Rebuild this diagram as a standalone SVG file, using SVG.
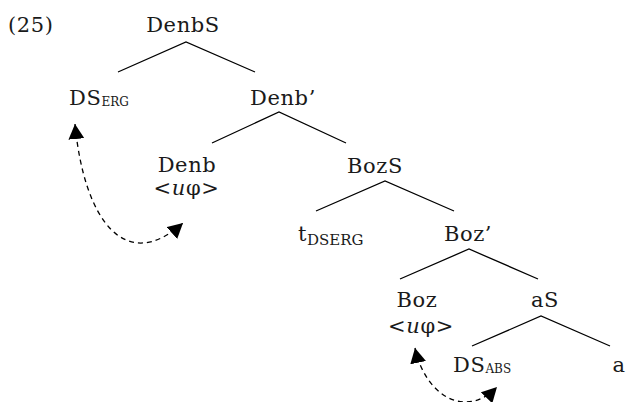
<svg xmlns="http://www.w3.org/2000/svg" width="627" height="402" viewBox="0 0 627 402">
<style>
text{font-family:"DejaVu Serif","Liberation Serif",serif;font-size:21px;fill:#1a1a1a;letter-spacing:0.6px}
.m{text-anchor:middle}
.sub{font-size:12px;letter-spacing:0}
.sub2{font-size:15px;letter-spacing:0}
.e{stroke:#000;stroke-width:1.3;fill:none}
.d{stroke:#000;stroke-width:1.3;fill:none;stroke-dasharray:5 4}
</style>
<defs>
<marker id="ah" markerUnits="userSpaceOnUse" markerWidth="16" markerHeight="16" viewBox="0 0 16 16" refX="15" refY="8" orient="auto-start-reverse">
<path d="M0,0 L15,8 L0,16 Z" fill="#000"/>
</marker>
</defs>
<text x="8" y="32">(25)</text>
<g id="DenbS"><text class="m" x="183" y="32">DenbS</text></g>
<g id="DSERG"><text x="69" y="105">DS<tspan class="sub" dy="1">ERG</tspan></text></g>
<g id="Denb1"><text class="m" x="283" y="105">Denb’</text></g>
<g id="Denb"><text class="m" x="187" y="172">Denb</text><text class="m" x="186.5" y="195">&lt;<tspan font-style="italic">u</tspan>φ&gt;</text></g>
<g id="BozS"><text class="m" x="375" y="173">BozS</text></g>
<g id="tDSERG"><text x="298" y="241">t<tspan class="sub2" dy="4">DSERG</tspan></text></g>
<g id="Boz1"><text class="m" x="468" y="241">Boz’</text></g>
<g id="Boz"><text class="m" x="417" y="307">Boz</text><text class="m" x="421" y="333">&lt;<tspan font-style="italic">u</tspan>φ&gt;</text></g>
<g id="aS"><text class="m" x="545" y="307">aS</text></g>
<g id="DSABS"><text x="453" y="372">DS<tspan class="sub" dy="1">ABS</tspan></text></g>
<g id="a"><text class="m" x="619" y="372">a</text></g>
<g id="connectors">
<path class="e" d="M118,72 L186,42 L255,72"/>
<path class="e" d="M212,143 L279,112 L346,143"/>
<path class="e" d="M316,211 L385,181 L454,211"/>
<path class="e" d="M400,279 L469,249 L538,279"/>
<path class="e" d="M472,346 L541,316 L610,346"/>
<path class="d" d="M75,124 C84,220 125,275 183,223" marker-start="url(#ah)" marker-end="url(#ah)"/>
<path class="d" d="M415,348 C425,395 465,420 497,387" marker-start="url(#ah)" marker-end="url(#ah)"/>
</g>
</svg>
